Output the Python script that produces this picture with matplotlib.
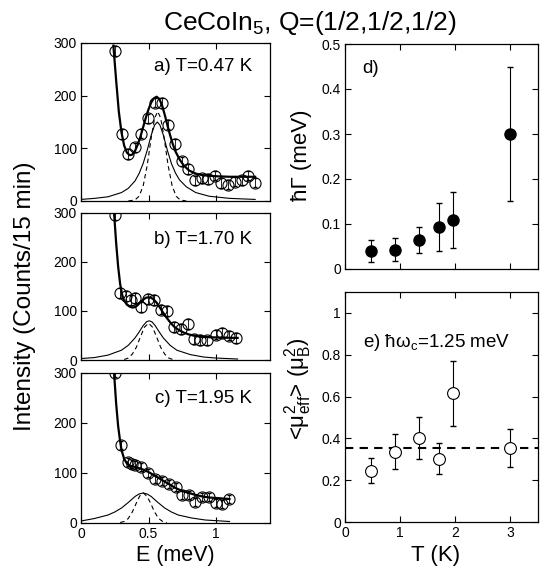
import numpy as np
import matplotlib
matplotlib.use('Agg')
import matplotlib.pyplot as plt

plt.rcParams['font.family'] = ['Liberation Sans', 'DejaVu Sans']
plt.rcParams['mathtext.default'] = 'regular'

# ---- panel a) T=0.47 K ----
E_a = [0.25, 0.30, 0.35, 0.40, 0.445, 0.495, 0.55, 0.60, 0.645, 0.695, 0.75, 0.795,
       0.845, 0.895, 0.94, 0.99, 1.04, 1.09, 1.14, 1.19, 1.24, 1.29]
I_a = [285, 127, 89, 102, 128, 157, 187, 186, 145, 108, 75, 61, 39, 43, 42, 48, 34, 31,
       37, 39, 48, 35]
fitE_a = [0.24, 0.26, 0.28, 0.30, 0.32, 0.34, 0.36, 0.38, 0.40, 0.42, 0.44, 0.46, 0.48,
          0.50, 0.52, 0.54, 0.56, 0.58, 0.60, 0.62, 0.64, 0.66, 0.68, 0.70, 0.73, 0.76,
          0.80, 0.85, 0.90, 1.00, 1.10, 1.20, 1.29]
fit_a = [295, 230, 170, 130, 105, 92, 87, 88, 95, 107, 122, 140, 158, 174, 187, 195,
         198, 194, 182, 164, 144, 125, 108, 94, 79, 68, 58, 52, 49, 47, 46, 46, 46]
lorE_a = [0.0, 0.1, 0.2, 0.3, 0.35, 0.40, 0.43, 0.46, 0.49, 0.52, 0.545, 0.565, 0.585,
          0.61, 0.64, 0.67, 0.70, 0.73, 0.78, 0.85, 0.95, 1.1, 1.29]
lor_a = [3, 5, 8, 16, 24, 38, 52, 71, 96, 125, 144, 150, 144, 125, 96, 71, 53, 40, 27,
         16, 9, 5, 3]
gauE_a = [0.35, 0.40, 0.43, 0.46, 0.49, 0.52, 0.545, 0.568, 0.59, 0.615, 0.645, 0.675,
          0.705, 0.735, 0.78]
gau_a = [0, 2, 9, 28, 67, 120, 157, 170, 158, 121, 68, 29, 9, 2, 0]

# ---- panel b) T=1.70 K ----
E_b = [0.25, 0.29, 0.335, 0.37, 0.40, 0.445, 0.495, 0.54, 0.59, 0.64, 0.69, 0.74, 0.79,
       0.84, 0.885, 0.93, 1.0, 1.045, 1.095, 1.15]
I_b = [296, 136, 130, 123, 126, 108, 124, 123, 103, 100, 68, 63, 74, 42, 41, 40, 52,
       56, 50, 45]
fitE_b = [0.245, 0.26, 0.275, 0.29, 0.305, 0.32, 0.34, 0.36, 0.38, 0.40, 0.42, 0.44,
          0.46, 0.48, 0.50, 0.52, 0.54, 0.56, 0.58, 0.60, 0.63, 0.66, 0.69, 0.72, 0.76,
          0.80, 0.85, 0.90, 1.00, 1.16]
fit_b = [300, 240, 191, 155, 133, 121, 113, 109, 107, 108, 112, 118, 123, 127, 128,
         127, 123, 117, 109, 100, 88, 77, 68, 62, 56, 52, 49, 47, 46, 45]
lorE_b = [0.0, 0.1, 0.2, 0.3, 0.35, 0.40, 0.43, 0.46, 0.485, 0.505, 0.525, 0.55, 0.58,
          0.61, 0.66, 0.71, 0.81, 0.91, 1.0, 1.16]
lor_b = [3, 5, 10, 20, 30, 45, 57, 70, 78, 80, 78, 70, 57, 45, 30, 20, 11, 6, 4, 2]
gauE_b = [0.32, 0.35, 0.38, 0.41, 0.44, 0.47, 0.50, 0.53, 0.56, 0.59, 0.62, 0.65, 0.68]
gau_b = [1, 4, 12, 26, 47, 67, 75, 67, 47, 26, 12, 4, 1]

# ---- panel c) T=1.95 K ----
E_c = [0.25, 0.295, 0.35, 0.375, 0.40, 0.445, 0.495, 0.545, 0.60, 0.65, 0.70, 0.75,
       0.80, 0.845, 0.895, 0.95, 1.0, 1.045, 1.095]
I_c = [300, 156, 123, 119, 117, 113, 100, 89, 84, 79, 72, 57, 56, 42, 52, 52, 40, 39, 49]
fitE_c = [0.245, 0.26, 0.275, 0.29, 0.30, 0.32, 0.34, 0.36, 0.40, 0.45, 0.50, 0.55,
          0.60, 0.65, 0.70, 0.75, 0.80, 0.85, 0.90, 0.95, 1.00, 1.10]
fit_c = [300, 240, 194, 163, 146, 128, 119, 115, 112, 108, 102, 94, 86, 78, 70, 64,
         60, 56, 53, 51, 50, 48]
lorE_c = [0.0, 0.1, 0.2, 0.25, 0.30, 0.35, 0.40, 0.43, 0.46, 0.49, 0.52, 0.57, 0.62,
          0.67, 0.72, 0.82, 0.92, 1.1]
lor_c = [4, 9, 16, 22, 30, 41, 53, 58, 60, 58, 53, 41, 30, 22, 16, 10, 6, 3]
gauE_c = [0.29, 0.32, 0.35, 0.38, 0.41, 0.435, 0.462, 0.49, 0.515, 0.545, 0.575, 0.605,
          0.635]
gau_c = [1, 3, 9, 22, 40, 54, 60, 53, 40, 22, 9, 3, 1]

err_a, err_b, err_c = 9, 10, 8

# ---- panel d) and e) vs temperature ----
T = [0.47, 0.9, 1.35, 1.7, 1.95, 3.0]
gamma = [0.040, 0.042, 0.064, 0.093, 0.109, 0.300]
gamma_lo = [0.015, 0.017, 0.035, 0.040, 0.047, 0.150]
gamma_hi = [0.064, 0.068, 0.094, 0.147, 0.170, 0.450]
mu2 = [0.245, 0.335, 0.40, 0.30, 0.615, 0.355]
mu2_lo = [0.185, 0.255, 0.30, 0.23, 0.46, 0.265]
mu2_hi = [0.305, 0.42, 0.50, 0.38, 0.77, 0.445]
mu2_mean = 0.355

W, H = 543, 567
fig = plt.figure(figsize=(W / 100, H / 100), dpi=100)


def box(x0, x1, y0, y1):
    # pixel box -> figure axes
    return fig.add_axes([x0 / W, 1 - y1 / H, (x1 - x0) / W, (y1 - y0) / H])


def style(ax):
    ax.tick_params(direction='in', top=True, right=True, length=4, width=0.8,
                   labelsize=10, pad=3)
    for s in ax.spines.values():
        s.set_linewidth(0.9)


left_boxes = [(81, 270, 43, 201), (81, 270, 213, 360), (81, 270, 373, 523)]
panels = [
    (E_a, I_a, err_a, fitE_a, fit_a, lorE_a, lor_a, gauE_a, gau_a, 'a) T=0.47 K', 0.82),
    (E_b, I_b, err_b, fitE_b, fit_b, lorE_b, lor_b, gauE_b, gau_b, 'b) T=1.70 K', 0.79),
    (E_c, I_c, err_c, fitE_c, fit_c, lorE_c, lor_c, gauE_c, gau_c, 'c) T=1.95 K', 0.80),
]
for i, (bx, p) in enumerate(zip(left_boxes, panels)):
    E, I, err, fE, f, lE, l, gE, g, lab, ty = p
    ax = box(*bx)
    style(ax)
    ax.plot(lE, l, color='k', lw=0.8)
    ax.plot(gE, g, color='k', lw=0.8, dashes=(4, 3))
    ax.errorbar(E, I, yerr=err, fmt='none', ecolor='k', elinewidth=0.6, capsize=1.2)
    ax.plot(E, I, 'o', mfc='none', mec='k', ms=8, mew=0.8)
    ax.plot(fE, f, color='k', lw=1.6)
    ax.set_xlim(0, 1.4)
    ax.set_ylim(0, 300)
    ax.set_xticks([0, 0.5, 1])
    ax.set_yticks([0, 100, 200, 300])
    ax.set_yticklabels(['0', '100', '200', '300'])
    if i < 2:
        ax.set_xticklabels([])
    else:
        ax.set_xticklabels(['0', '0.5', '1'])
    ax.text(0.905, ty, lab, transform=ax.transAxes, ha='right', va='baseline',
            fontsize=13.5)

# d) linewidth
axd = box(345, 538, 44, 269)
style(axd)
yerr_d = [np.subtract(gamma, gamma_lo), np.subtract(gamma_hi, gamma)]
axd.errorbar(T, gamma, yerr=yerr_d, fmt='o', color='k', mfc='k', mec='k', ms=8,
             elinewidth=0.8, capsize=2)
axd.set_xlim(0, 3.5)
axd.set_ylim(0, 0.5)
axd.set_xticks([0, 1, 2, 3])
axd.set_xticklabels([])
axd.set_yticks([0, 0.1, 0.2, 0.3, 0.4, 0.5])
axd.set_yticklabels(['0', '0.1', '0.2', '0.3', '0.4', '0.5'])
axd.text(0.087, 0.87, 'd)', transform=axd.transAxes, ha='left', va='baseline',
         fontsize=13.5)

# e) spectral weight
axe = box(345, 538, 292, 522)
style(axe)
axe.axhline(mu2_mean, color='k', lw=1.5, dashes=(4, 3))
yerr_e = [np.subtract(mu2, mu2_lo), np.subtract(mu2_hi, mu2)]
axe.errorbar(T, mu2, yerr=yerr_e, fmt='none', ecolor='k', elinewidth=0.8, capsize=2)
axe.plot(T, mu2, 'o', mfc='white', mec='k', ms=8.5, mew=0.8)
axe.set_xlim(0, 3.5)
axe.set_ylim(0, 1.1)
axe.set_xticks([0, 1, 2, 3])
axe.set_xticklabels(['0', '1', '2', '3'])
axe.set_yticks([0, 0.2, 0.4, 0.6, 0.8, 1.0])
axe.set_yticklabels(['0', '0.2', '0.4', '0.6', '0.8', '1'])
axe.text(0.092, 0.761, 'e) ħω$_c$=1.25 meV', transform=axe.transAxes, ha='left',
         va='baseline', fontsize=13.5)

# labels
fig.text(310 / W, 1 - 30 / H, 'CeCoIn$_5$, Q=(1/2,1/2,1/2)', ha='center',
         va='baseline', fontsize=19)
fig.text(25 / W, 1 - 296 / H, 'Intensity (Counts/15 min)', rotation=90,
         ha='center', va='center', fontsize=17.5)
fig.text(175 / W, 1 - 555 / H, 'E (meV)', ha='center', va='center', fontsize=15.5)
fig.text(436 / W, 1 - 555 / H, 'T (K)', ha='center', va='center', fontsize=16)
fig.text(301 / W, 1 - 155 / H, 'ħΓ (meV)', rotation=90, ha='center', va='center',
         fontsize=16)
fig.text(298 / W, 1 - 389 / H, '<μ$^2_{eff}$> (μ$^2_B$)', rotation=90, ha='center',
         va='center', fontsize=16)

fig.savefig('out.png', dpi=100)
